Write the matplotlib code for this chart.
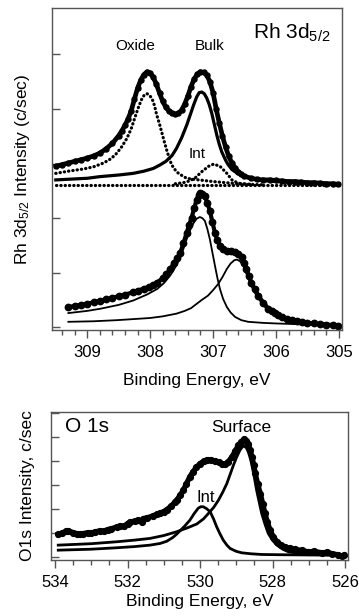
import matplotlib
matplotlib.use("Agg")
import matplotlib.pyplot as plt
from matplotlib.ticker import MultipleLocator, NullFormatter

plt.rcParams['font.family'] = ['Liberation Sans', 'DejaVu Sans']
plt.rcParams['mathtext.default'] = 'regular'

# ---- Rh 3d5/2, upper spectrum (oxidized) ----
rh_top_E = [309.50, 309.40, 309.30, 309.20, 309.10, 309.00, 308.90, 308.80, 308.70, 308.60,
            308.50, 308.45, 308.40, 308.35, 308.30, 308.25, 308.20, 308.15, 308.10, 308.05,
            308.00, 307.95, 307.90, 307.85, 307.80, 307.75, 307.70, 307.65, 307.60, 307.55,
            307.50, 307.45, 307.40, 307.35, 307.30, 307.25, 307.20, 307.15, 307.10, 307.05,
            307.00, 306.95, 306.90, 306.85, 306.80, 306.75, 306.70, 306.65, 306.60, 306.55,
            306.50, 306.40, 306.30, 306.20, 306.10, 306.00, 305.90, 305.80, 305.70, 305.60,
            305.50, 305.40, 305.30, 305.20, 305.10, 305.01]
rh_top_I = [2.95, 2.98, 3.01, 3.04, 3.07, 3.10, 3.14, 3.19, 3.27, 3.37,
            3.51, 3.60, 3.70, 3.82, 3.97, 4.18, 4.38, 4.53, 4.63, 4.68,
            4.66, 4.58, 4.45, 4.29, 4.14, 4.03, 3.96, 3.92, 3.90, 3.92,
            3.98, 4.09, 4.24, 4.41, 4.55, 4.64, 4.68, 4.67, 4.62, 4.50,
            4.30, 4.00, 3.74, 3.50, 3.30, 3.13, 3.01, 2.92, 2.85, 2.80,
            2.77, 2.73, 2.71, 2.70, 2.70, 2.69, 2.68, 2.67, 2.67, 2.66,
            2.65, 2.65, 2.64, 2.63, 2.63, 2.62]

bulk_top_E = [309.50, 309.00, 308.80, 308.50, 308.27, 308.10, 307.95, 307.85, 307.75, 307.65,
              307.58, 307.50, 307.42, 307.36, 307.31, 307.26, 307.22, 307.18, 307.14, 307.10,
              307.06, 307.02, 306.98, 306.94, 306.90, 306.86, 306.80, 306.76, 306.70, 306.60,
              306.50, 306.39, 306.20, 306.00, 305.60, 305.01]
bulk_top_I = [2.70, 2.73, 2.76, 2.79, 2.82, 2.86, 2.91, 2.97, 3.04, 3.15,
              3.28, 3.47, 3.70, 3.90, 4.07, 4.22, 4.30, 4.31, 4.28, 4.20,
              4.08, 3.92, 3.72, 3.52, 3.35, 3.21, 3.06, 2.98, 2.89, 2.81,
              2.76, 2.73, 2.69, 2.67, 2.65, 2.63]

oxide_E = [309.50, 309.30, 309.06, 308.90, 308.74, 308.62, 308.53, 308.45, 308.37, 308.30,
           308.24, 308.18, 308.13, 308.09, 308.05, 308.01, 307.97, 307.93, 307.90, 307.85,
           307.81, 307.77, 307.73, 307.69, 307.66, 307.60, 307.55, 307.48, 307.42, 307.30,
           307.15, 307.00, 306.80, 306.60, 306.40]
oxide_I = [2.82, 2.86, 2.90, 2.94, 3.01, 3.09, 3.19, 3.31, 3.46, 3.64,
           3.85, 4.05, 4.19, 4.26, 4.28, 4.25, 4.19, 4.06, 3.91, 3.72,
           3.55, 3.38, 3.22, 3.08, 2.98, 2.88, 2.82, 2.77, 2.73, 2.71,
           2.69, 2.67, 2.65, 2.63, 2.62]

int_top_E = [307.60, 307.47, 307.38, 307.29, 307.18, 307.07, 306.99, 306.89, 306.78, 306.70,
             306.60, 306.45, 306.20]
int_top_I = [2.63, 2.65, 2.68, 2.73, 2.85, 2.95, 2.99, 2.95, 2.82, 2.70,
             2.64, 2.62, 2.61]

base_top_E = [309.50, 305.01]
base_top_I = [2.61, 2.61]

# ---- Rh 3d5/2, lower spectrum (metallic) ----
rh_low_E = [309.30, 309.20, 309.10, 309.00, 308.90, 308.79, 308.70, 308.60, 308.50, 308.40,
            308.27, 308.20, 308.10, 308.02, 307.95, 307.89, 307.80, 307.74, 307.68, 307.62,
            307.57, 307.52, 307.47, 307.42, 307.38, 307.34, 307.30, 307.26, 307.23, 307.20,
            307.17, 307.13, 307.09, 307.05, 307.01, 306.97, 306.93, 306.89, 306.84, 306.78,
            306.72, 306.65, 306.60, 306.54, 306.50, 306.47, 306.43, 306.39, 306.34, 306.28,
            306.20, 306.12, 306.07, 306.02, 305.96, 305.91, 305.83, 305.75, 305.67, 305.59,
            305.50, 305.40, 305.30, 305.20, 305.10, 305.01]
rh_low_I = [0.37, 0.39, 0.41, 0.43, 0.46, 0.49, 0.51, 0.54, 0.57, 0.60,
            0.64, 0.67, 0.71, 0.74, 0.78, 0.82, 0.90, 0.97, 1.07, 1.18,
            1.27, 1.37, 1.54, 1.73, 1.88, 2.01, 2.18, 2.34, 2.43, 2.46,
            2.45, 2.40, 2.28, 2.13, 1.93, 1.73, 1.59, 1.49, 1.43, 1.40,
            1.39, 1.38, 1.34, 1.28, 1.17, 1.07, 0.94, 0.82, 0.70, 0.58,
            0.45, 0.34, 0.30, 0.26, 0.22, 0.19, 0.16, 0.14, 0.12, 0.10,
            0.08, 0.07, 0.06, 0.05, 0.04, 0.03]

bulk_low_E = [309.30, 309.00, 308.79, 308.50, 308.27, 308.05, 307.89, 307.78, 307.68, 307.60,
              307.52, 307.47, 307.42, 307.36, 307.31, 307.26, 307.21, 307.17, 307.13, 307.09,
              307.05, 307.01, 306.97, 306.93, 306.89, 306.84, 306.78, 306.72, 306.65, 306.55,
              306.44, 306.20, 306.00, 305.50, 305.01]
bulk_low_I = [0.26, 0.30, 0.34, 0.41, 0.49, 0.60, 0.70, 0.81, 0.95, 1.10,
              1.28, 1.44, 1.61, 1.79, 1.91, 1.99, 2.02, 2.00, 1.95, 1.80,
              1.61, 1.37, 1.13, 0.90, 0.70, 0.52, 0.37, 0.27, 0.19, 0.13,
              0.10, 0.08, 0.07, 0.05, 0.03]

surf_low_E = [309.30, 308.90, 308.53, 308.00, 307.80, 307.58, 307.45, 307.35, 307.26, 307.18,
              307.08, 307.00, 306.92, 306.85, 306.78, 306.72, 306.66, 306.62, 306.57, 306.52,
              306.47, 306.41, 306.36, 306.31, 306.23, 306.15, 306.05, 305.94, 305.75, 305.59,
              305.30, 305.01]
surf_low_I = [0.10, 0.11, 0.13, 0.17, 0.20, 0.25, 0.30, 0.35, 0.43, 0.50,
              0.58, 0.68, 0.79, 0.92, 1.07, 1.17, 1.23, 1.24, 1.21, 1.13,
              0.98, 0.82, 0.69, 0.58, 0.45, 0.34, 0.26, 0.19, 0.14, 0.10,
              0.06, 0.04]

# ---- O 1s ----
o1s_E = [533.91, 533.80, 533.70, 533.63, 533.50, 533.40, 533.30, 533.22, 533.10, 533.00,
         532.90, 532.76, 532.65, 532.55, 532.45, 532.30, 532.20, 532.10, 532.00, 531.93,
         531.80, 531.70, 531.60, 531.56, 531.45, 531.30, 531.19, 531.10, 531.00, 530.92,
         530.80, 530.70, 530.64, 530.55, 530.46, 530.38, 530.28, 530.20, 530.10, 530.00,
         529.90, 529.80, 529.70, 529.60, 529.49, 529.40, 529.31, 529.22, 529.12, 529.03,
         528.94, 528.86, 528.78, 528.72, 528.67, 528.62, 528.57, 528.52, 528.48, 528.41,
         528.34, 528.27, 528.21, 528.14, 528.07, 527.98, 527.88, 527.77, 527.66, 527.52,
         527.38, 527.20, 527.01, 526.85, 526.64, 526.50, 526.35, 526.20, 526.09, 526.02]
o1s_I = [0.95, 1.00, 1.08, 1.10, 1.02, 0.98, 0.97, 0.98, 1.02, 1.00,
         1.05, 1.10, 1.08, 1.15, 1.18, 1.26, 1.30, 1.28, 1.40, 1.47,
         1.50, 1.55, 1.45, 1.61, 1.64, 1.72, 1.79, 1.84, 1.90, 1.98,
         2.12, 2.28, 2.38, 2.58, 2.79, 3.05, 3.35, 3.55, 3.74, 3.90,
         4.00, 4.06, 4.05, 4.00, 3.95, 3.90, 3.88, 3.98, 4.18, 4.42,
         4.67, 4.82, 4.92, 4.85, 4.72, 4.48, 4.18, 3.85, 3.49, 3.05,
         2.65, 2.22, 1.82, 1.45, 1.13, 0.85, 0.64, 0.50, 0.43, 0.36,
         0.32, 0.28, 0.22, 0.24, 0.18, 0.20, 0.14, 0.10, 0.04, 0.08]

surface_E = [533.91, 533.00, 532.30, 531.80, 531.38, 531.00, 530.64, 530.35, 530.09, 529.90,
             529.77, 529.62, 529.49, 529.37, 529.26, 529.17, 529.08, 528.99, 528.90, 528.83,
             528.78, 528.72, 528.67, 528.61, 528.56, 528.50, 528.44, 528.37, 528.30, 528.21,
             528.12, 528.00, 527.88, 527.72, 527.56, 527.30, 527.01, 526.70, 526.40]
surface_I = [0.50, 0.56, 0.64, 0.71, 0.78, 0.90, 1.06, 1.22, 1.38, 1.60,
             1.82, 2.08, 2.38, 2.72, 3.07, 3.45, 3.83, 4.17, 4.46, 4.60,
             4.63, 4.55, 4.39, 4.10, 3.76, 3.30, 2.79, 2.30, 1.82, 1.38,
             0.99, 0.70, 0.50, 0.33, 0.22, 0.16, 0.13, 0.11, 0.10]

int_o_E = [533.91, 533.00, 532.30, 531.80, 531.38, 531.10, 530.92, 530.75, 530.65, 530.55,
           530.42, 530.28, 530.16, 530.05, 529.98, 529.91, 529.82, 529.72, 529.63, 529.54,
           529.45, 529.36, 529.26, 529.17, 529.00, 528.85, 528.60, 528.30, 527.80, 527.00,
           526.40]
int_o_I = [0.29, 0.33, 0.39, 0.44, 0.50, 0.57, 0.66, 0.82, 0.95, 1.10,
           1.30, 1.54, 1.82, 2.04, 2.10, 2.10, 2.02, 1.89, 1.60, 1.26,
           0.97, 0.71, 0.50, 0.36, 0.24, 0.18, 0.14, 0.11, 0.10, 0.09,
           0.08]

fig = plt.figure(figsize=(3.59, 6.16), dpi=100)
dots = dict(linestyle=(0, (0.1, 1.25)), dash_capstyle='round', linewidth=2.3, color='k')
frame_col = '#555555'

# Panel 1: Rh 3d
ax1 = fig.add_axes([52/359, 1 - 330/616, 290/359, 322/616])
ax1.plot(rh_top_E, rh_top_I, 'k-', lw=3.4, marker='o', ms=3.6)
ax1.plot(bulk_top_E, bulk_top_I, 'k-', lw=2.3)
ax1.plot(oxide_E, oxide_I, **dots)
ax1.plot(int_top_E, int_top_I, **dots)
ax1.plot(base_top_E, base_top_I, **dots)
ax1.plot(rh_low_E, rh_low_I, 'k-', lw=3.0, marker='o', ms=4.6)
ax1.plot(bulk_low_E, bulk_low_I, 'k-', lw=1.3)
ax1.plot(surf_low_E, surf_low_I, 'k-', lw=1.3)

ax1.set_xlim(309.56, 304.95)
ax1.set_ylim(-0.05, 5.85)
ax1.xaxis.set_major_locator(MultipleLocator(1))
ax1.xaxis.set_minor_locator(MultipleLocator(0.2))
ax1.yaxis.set_major_locator(MultipleLocator(1))
ax1.yaxis.set_major_formatter(NullFormatter())
ax1.set_xlabel('Binding Energy, eV', fontsize=12.5, labelpad=9)
ax1.set_ylabel('Rh 3d$_{5/2}$ Intensity (c/sec)', fontsize=12.5)
ax1.yaxis.set_label_coords(-0.068, 0.5)
ax1.text(0.96, 0.905, 'Rh 3d$_{5/2}$', transform=ax1.transAxes, fontsize=15, ha='right')
ax1.text(0.286, 0.870, 'Oxide', transform=ax1.transAxes, fontsize=11, ha='center')
ax1.text(0.543, 0.870, 'Bulk', transform=ax1.transAxes, fontsize=11, ha='center')
ax1.text(0.499, 0.533, 'Int', transform=ax1.transAxes, fontsize=11, ha='center')

# Panel 2: O 1s
ax2 = fig.add_axes([51/359, 1 - 560/616, 297/359, 148/616])
ax2.plot(o1s_E, o1s_I, 'k-', lw=3.8, marker='o', ms=4.2)
ax2.plot(surface_E, surface_I, 'k-', lw=2.0)
ax2.plot(int_o_E, int_o_I, 'k-', lw=2.0)

ax2.set_xlim(534.11, 525.92)
ax2.set_ylim(-0.12, 6.05)
ax2.xaxis.set_major_locator(MultipleLocator(2))
ax2.xaxis.set_minor_locator(MultipleLocator(0.5))
ax2.yaxis.set_major_locator(MultipleLocator(1))
ax2.yaxis.set_major_formatter(NullFormatter())
ax2.set_xlabel('Binding Energy, eV', fontsize=12.5, labelpad=3)
ax2.set_ylabel('O1s Intensity, c/sec', fontsize=12.5)
ax2.yaxis.set_label_coords(-0.055, 0.5)
ax2.text(0.047, 0.865, 'O 1s', transform=ax2.transAxes, fontsize=15, ha='left')
ax2.text(0.642, 0.867, 'Surface', transform=ax2.transAxes, fontsize=12.5, ha='center')
ax2.text(0.521, 0.394, 'Int', transform=ax2.transAxes, fontsize=12, ha='center')

for ax in (ax1, ax2):
    for s in ax.spines.values():
        s.set_color(frame_col)
        s.set_linewidth(1.0)
    ax.tick_params(axis='y', direction='in', length=6, width=1, color=frame_col, right=False)
    ax.tick_params(axis='x', which='major', direction='out', length=6, width=1,
                   color=frame_col, pad=5, labelsize=12, top=False)
    ax.tick_params(axis='x', which='minor', direction='out', length=3.5, width=1,
                   color=frame_col, top=False)

fig.savefig('out.png', dpi=100)
